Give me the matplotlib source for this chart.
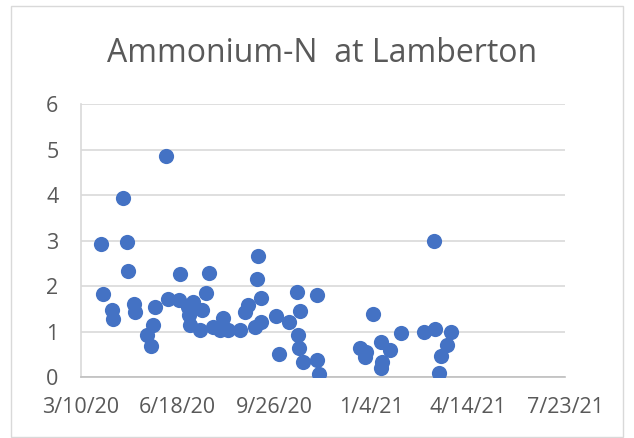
import matplotlib
matplotlib.use("Agg")
import matplotlib.pyplot as plt
import pandas as pd
from matplotlib.patches import Rectangle

dates = ["2020-03-31", "2020-04-02", "2020-04-11", "2020-04-12", "2020-04-23", "2020-04-27",
         "2020-04-28", "2020-05-04", "2020-05-05", "2020-05-17", "2020-05-22", "2020-05-24",
         "2020-05-26", "2020-06-06", "2020-06-08", "2020-06-19", "2020-06-21", "2020-06-29",
         "2020-06-30", "2020-07-01", "2020-07-04", "2020-07-11", "2020-07-13", "2020-07-17",
         "2020-07-20", "2020-07-25", "2020-08-01", "2020-08-04", "2020-08-09", "2020-08-21",
         "2020-08-27", "2020-08-30", "2020-09-06", "2020-09-08", "2020-09-09", "2020-09-12",
         "2020-09-12", "2020-09-28", "2020-10-01", "2020-10-11", "2020-10-19", "2020-10-20",
         "2020-10-21", "2020-10-22", "2020-10-25", "2020-11-09", "2020-11-09", "2020-11-11",
         "2020-12-23", "2020-12-29", "2020-12-30", "2021-01-06", "2021-01-14", "2021-01-15",
         "2021-01-14", "2021-01-23", "2021-02-04", "2021-02-27", "2021-03-11", "2021-03-10",
         "2021-03-27", "2021-03-23", "2021-03-17", "2021-03-15"]
ammonium = [2.92, 1.83, 1.48, 1.27, 3.94, 2.96,
            2.33, 1.61, 1.44, 0.93, 0.69, 1.15,
            1.54, 4.86, 1.71, 1.70, 2.26, 1.55,
            1.37, 1.15, 1.66, 1.04, 1.48, 1.84,
            2.30, 1.10, 1.04, 1.30, 1.04, 1.04,
            1.44, 1.59, 1.10, 2.15, 2.66, 1.73,
            1.22, 1.35, 0.51, 1.22, 1.88, 0.93,
            0.65, 1.46, 0.34, 1.81, 0.39, 0.07,
            0.65, 0.45, 0.56, 1.38, 0.78, 0.34,
            0.21, 0.61, 0.98, 1.00, 1.05, 3.00,
            0.99, 0.71, 0.47, 0.09]
tick_dates = ["2020-03-10", "2020-06-18", "2020-09-26", "2021-01-04", "2021-04-14", "2021-07-23"]
tick_labels = ["3/10/20", "6/18/20", "9/26/20", "1/4/21", "4/14/21", "7/23/21"]

x = pd.to_datetime(dates)
ticks = pd.to_datetime(tick_dates)

plt.rcParams['font.family'] = ['Open Sans', 'DejaVu Sans']
fig = plt.figure(figsize=(6.34, 4.38), dpi=100)
fig.patches.append(Rectangle((11 / 634, 1 / 438), 612 / 634, 431 / 438, transform=fig.transFigure,
                             fill=False, edgecolor='#D9D9D9', linewidth=1))
ax = fig.add_axes([80.7 / 634, 60.7 / 438, 484.3 / 634, 273.3 / 438])

ax.scatter(x, ammonium, s=120, color='#4472C4', zorder=3, linewidths=0)

ax.set_xlim(ticks[0], ticks[-1])
ax.set_ylim(0, 6)
ax.set_xticks(ticks)
ax.set_xticklabels(tick_labels)
ax.set_yticks(range(7))
ax.grid(axis='y', color='#D9D9D9', linewidth=1.2, zorder=0)
for side in ['top', 'right']:
    ax.spines[side].set_visible(False)
ax.spines['left'].set_color('#D9D9D9')
ax.spines['bottom'].set_color('#BFBFBF')
ax.spines['left'].set_linewidth(1.2)
ax.spines['bottom'].set_linewidth(1.2)
ax.tick_params(length=0, labelsize=15.5, colors='#595959')
ax.tick_params(axis='x', pad=14)
ax.tick_params(axis='y', pad=16)
ax.set_axisbelow(True)

fig.text(322 / 634, 1 - 61.7 / 438, "Ammonium-N  at Lamberton", ha='center', va='baseline',
         fontsize=23, color='#595959')

fig.savefig("out.png", dpi=100)
